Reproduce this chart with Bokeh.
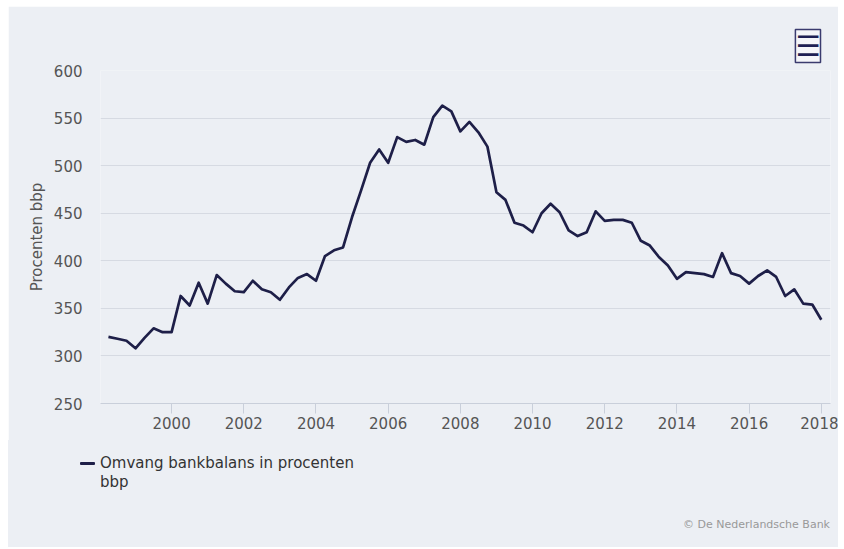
from bokeh.plotting import figure
from bokeh.layouts import column
from bokeh.models import Range1d, SingleIntervalTicker, FixedTicker, Title, Div
from bokeh.embed import file_html
from bokeh.resources import INLINE

# Quarterly data (quarter-end), 1998Q1 .. 2017Q4
quarters = [f"{y}Q{q}" for y in range(1998, 2018) for q in (1, 2, 3, 4)]
values = [
    320, 318, 316, 308,
    319, 329, 325, 325,
    363, 353, 377, 355,
    385, 376, 368, 367,
    379, 370, 367, 359,
    372, 382, 386, 379,
    405, 411, 414, 446,
    474, 503, 517, 503,
    530, 525, 527, 522,
    551, 563, 557, 536,
    546, 535, 520, 472,
    464, 440, 437, 430,
    450, 460, 451, 432,
    426, 430, 452, 442,
    443, 443, 440, 421,
    416, 404, 395, 381,
    388, 387, 386, 383,
    408, 387, 384, 376,
    384, 390, 383, 363,
    370, 355, 354, 338,
]
series_name = "Omvang bankbalans in procenten"
series_name_2 = "bbp"
y_title = "Procenten bbp"
credits = "\u00a9 De Nederlandsche Bank"
x_ticks = list(range(2000, 2019, 2))

x = [int(s[:4]) + int(s[5]) * 0.25 for s in quarters]

BG = "#ECEFF4"
FONT = "DejaVu Sans"
LINE = "#1e1f48"

# ---------------- main chart ----------------
p = figure(width=830, height=434, output_backend="svg", toolbar_location=None,
           x_range=Range1d(1998.03, 2018.255), y_range=Range1d(250, 600),
           min_border_left=92, min_border_right=8, min_border_top=64, min_border_bottom=37)
p.margin = (6, 0, 0, 8)
p.background_fill_color = BG
p.border_fill_color = BG
p.outline_line_color = None

r = p.line(x, values, line_color=LINE, line_width=2.7, line_join="round")

p.yaxis.ticker = SingleIntervalTicker(interval=50)
p.yaxis.axis_line_color = None
p.yaxis.major_tick_line_color = None
p.yaxis.major_tick_out = 0
p.yaxis.major_tick_in = 0
p.yaxis.minor_tick_line_color = None
p.yaxis.minor_tick_out = 0
p.yaxis.major_label_text_font = FONT
p.yaxis.major_label_text_font_size = "15px"
p.yaxis.major_label_text_color = "#555555"
p.yaxis.major_label_standoff = 18
p.yaxis.axis_label = y_title
p.yaxis.axis_label_text_font = FONT
p.yaxis.axis_label_text_font_size = "15px"
p.yaxis.axis_label_text_font_style = "normal"
p.yaxis.axis_label_text_color = "#555555"
p.yaxis.axis_label_standoff = 5

p.xaxis.ticker = FixedTicker(ticks=x_ticks)
p.xaxis.axis_line_color = "#C9CFDA"
p.xaxis.major_tick_line_color = "#C9CFDA"
p.xaxis.major_tick_out = 10
p.xaxis.major_tick_in = 0
p.xaxis.minor_tick_line_color = None
p.xaxis.major_label_text_font = FONT
p.xaxis.major_label_text_font_size = "15px"
p.xaxis.major_label_text_color = "#555555"
p.xaxis.major_label_standoff = 3

p.xgrid.grid_line_color = None
p.ygrid.grid_line_color = "#D6DAE2"
p.ygrid.grid_line_width = 1

p.add_layout(Title(text="\u2630", align="right", text_font=FONT, text_font_size="28px",
                   text_color="#1e1f55", text_font_style="bold", offset=10, standoff=16,
                   border_line_color="#3a3b6e", border_line_width=1.5,
                   background_fill_color="#F4F5F9"), "above")

# ---------------- footer: legend and credits ----------------
foot_html = f"""
<div style="position:relative;width:830px;height:107px;background:{BG};font-family:'{FONT}';">
  <div style="position:absolute;left:72px;top:22px;width:15px;height:3px;background:{LINE};border-radius:1px;"></div>
  <div style="position:absolute;left:92px;top:14px;font-size:15px;line-height:19px;color:#333333;white-space:nowrap;">{series_name}<br>{series_name_2}</div>
  <div style="position:absolute;right:8px;top:78px;font-size:11px;line-height:14px;color:#999999;white-space:nowrap;">{credits}</div>
</div>
"""
foot = Div(text=foot_html, width=830, height=107, margin=(0, 0, 0, 8))

layout = column(p, foot, spacing=0)
open("out.html", "w").write(file_html(layout, INLINE))
